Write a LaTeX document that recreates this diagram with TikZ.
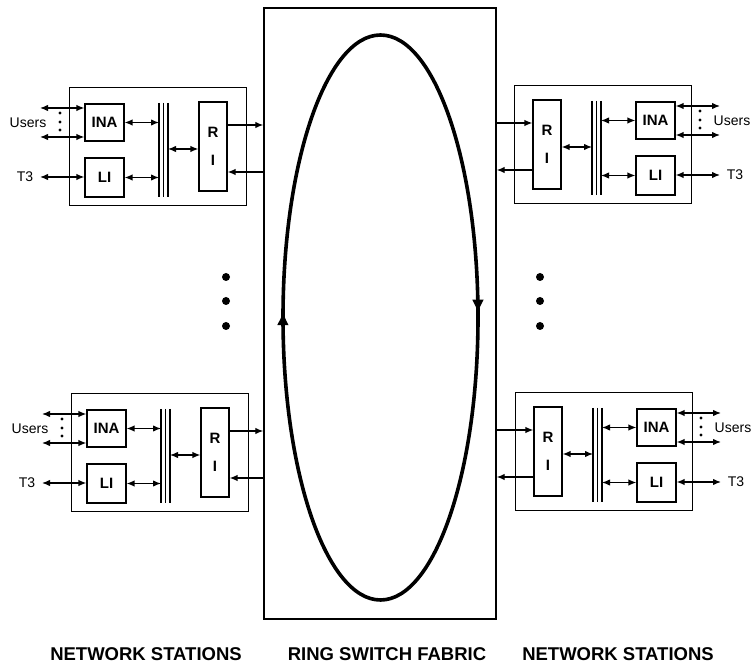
\documentclass[tikz,border=0pt]{standalone}
\usepackage{fontspec}
\setmainfont{Liberation Sans}
\usetikzlibrary{arrows.meta}
\usetikzlibrary{calc}
\usetikzlibrary{decorations.markings}
\tikzset{>=latex}

\begin{document}
\begin{tikzpicture}[
            x=1pt, y=-1pt,
            font=\fontsize{14}{17}\selectfont,
            unit/.style={
                draw=black, line width=1.2pt, inner sep=0pt,
                align=center, font=\fontsize{15}{17}\selectfont\bfseries,
            },
            frame/.style={draw=black, line width=0.9pt},
            bus/.style={line width=1.2pt},
            link/.style={{Latex[length=8pt, width=6.5pt]}-{Latex[length=8pt, width=6.5pt]}, line width=1.3pt},
            tofab/.style={-{Latex[length=8pt, width=6.5pt]}, line width=1.3pt},
            tori/.style={{Latex[length=8pt, width=6.5pt]}-, line width=1.3pt},
            caption/.style={font=\fontsize{18.5}{21}\selectfont\bfseries},
            ring/.style={
                line width=3.6pt, postaction={decorate},
                decoration={markings,
                    mark=at position 0.505 with {\arrow{Latex[length=14pt, width=12pt]}},
                    mark=at position 0.997 with {\arrow{Latex[length=14pt, width=12pt]}}},
            },
        ]
            \useasboundingbox (0,0) rectangle (756,668);

            % --- ring switch fabric ---
            \node[frame, line width=1.4pt, minimum width=232pt, minimum height=611pt] (fabric) at (380,313.5) {};
            \draw[ring] (380.5,317.5) ellipse [x radius=97.5, y radius=282.5];

            % --- four network stations, right ones mirrored ---
            \foreach \st/\ox/\oy/\sd/\tw/\bw/\ua/\da in {
                    tl/69/87/1/east/west/tofab/tori,
                    tr/691/85/-1/west/east/tori/tofab,
                    bl/71/393/1/east/west/tofab/tori,
                    br/692/392/-1/west/east/tori/tofab}{
                \begin{scope}[shift={(\ox,\oy)}]
                    \node[frame, minimum width=177pt, minimum height=118pt] (\st-box) at (\sd*88.5,59) {};
                    \node[unit, minimum width=39pt, minimum height=37pt] (\st-ina) at (\sd*35.5,35.5) {INA};
                    \node[unit, minimum width=39pt, minimum height=39pt] (\st-li) at (\sd*35.5,90.5) {LI};
                    \node[unit, minimum width=28pt, minimum height=89pt] (\st-ri) at (\sd*144,59.5) {R\\[11pt]I};

                    % bus
                    \foreach \bx in {90,94.5,99}
                        \draw[bus] (\sd*\bx,16) -- (\sd*\bx,110);
                    \coordinate (\st-bi) at (\sd*90,0);
                    \coordinate (\st-bo) at (\sd*99,62);

                    % user side
                    \coordinate (\st-u1) at (\sd*-29,21);
                    \coordinate (\st-u2) at (\sd*-29,50);
                    \coordinate (\st-t3) at (\sd*-29,90);
                    \node (\st-users) at (\sd*-41,36) {Users};
                    \node (\st-t3l) at (\sd*-44,90) {T3};
                    \foreach \dy in {26,35,43}
                        \fill (\sd*-9,\dy) circle (1.7);

                    \draw[link] (\st-u1) -- (\st-u1 -| \st-ina.\bw);
                    \draw[link] (\st-u2) -- (\st-u2 -| \st-ina.\bw);
                    \draw[link] (\st-t3) -- (\st-t3 -| \st-li.\bw);
                    \draw[link] (\st-ina) -- (\st-ina -| \st-bi);
                    \draw[link] (\st-li) -- (\st-li -| \st-bi);
                    \draw[link] (\st-bo) -- (\st-bo -| \st-ri.\bw);

                    % ring side
                    \coordinate (\st-up) at (\sd*144,38);
                    \coordinate (\st-dn) at (\sd*144,85);
                    \draw[\ua] (\st-up -| \st-ri.\tw) -- (\st-up -| fabric.\bw);
                    \draw[\da] (\st-dn -| \st-ri.\tw) -- (\st-dn -| fabric.\bw);
                \end{scope}
            }

            % --- more stations ---
            \foreach \vy in {277,301,326}{
                \fill (226,\vy) circle (4);
                \fill (540,\vy) circle (4);
            }

            % --- captions ---
            \node[caption] (capl) at (146,654) {NETWORK STATIONS};
            \node[caption] (capm) at (387,654) {RING SWITCH FABRIC};
            \node[caption] (capr) at (618,654) {NETWORK STATIONS};
        \end{tikzpicture}
\end{document}
